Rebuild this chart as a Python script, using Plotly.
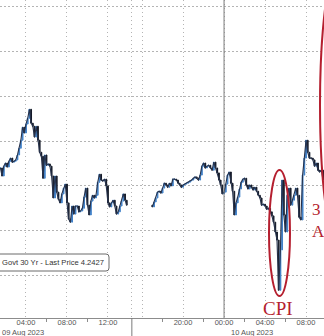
import plotly.graph_objects as go
import pandas as pd

# ---------------- data ----------------
# US 30Y yield, 10-minute closes
day1_start = "2023-08-09 01:30"
day1_close = [
    4.1540, 4.1522, 4.1544, 4.1551, 4.1542, 4.1555, 4.1562, 4.1553, 4.1555, 4.1558,
    4.1569, 4.1584, 4.1602, 4.1631, 4.1618, 4.1638, 4.1651, 4.1671, 4.1640, 4.1633,
    4.1609, 4.1633, 4.1602, 4.1575, 4.1566, 4.1517, 4.1569, 4.1546, 4.1549, 4.1544,
    4.1522, 4.1473, 4.1522, 4.1486, 4.1470, 4.1462, 4.1482, 4.1495, 4.1504, 4.1462,
    4.1426, 4.1419, 4.1455, 4.1437, 4.1455, 4.1455, 4.1442, 4.1444, 4.1450, 4.1475,
    4.1495, 4.1457, 4.1435, 4.1466, 4.1479, 4.1473, 4.1479, 4.1508, 4.1526, 4.1513,
    4.1511, 4.1515, 4.1500, 4.1462, 4.1453, 4.1462, 4.1468, 4.1455, 4.1437, 4.1442,
    4.1455, 4.1466, 4.1482, 4.1468, 4.1457,
]
day2_start = "2023-08-09 17:00"
day2_close = [
    4.1453, 4.1464, 4.1473, 4.1486, 4.1488, 4.1484, 4.1495, 4.1506, 4.1502, 4.1497,
    4.1506, 4.1500, 4.1515, 4.1515, 4.1513, 4.1506, 4.1502, 4.1497, 4.1502, 4.1504,
    4.1506, 4.1508, 4.1511, 4.1513, 4.1517, 4.1520, 4.1517, 4.1513, 4.1524, 4.1544,
    4.1551, 4.1540, 4.1544, 4.1546, 4.1540, 4.1535, 4.1553, 4.1540, 4.1529, 4.1513,
    4.1502, 4.1482, 4.1486, 4.1504, 4.1524, 4.1531, 4.1506, 4.1488, 4.1435, 4.1462,
    4.1475, 4.1493, 4.1508, 4.1515, 4.1517, 4.1502, 4.1493, 4.1502, 4.1497, 4.1491,
    4.1497, 4.1488, 4.1479, 4.1473, 4.1457, 4.1459, 4.1455, 4.1448, 4.1450, 4.1442,
    4.1433, 4.1419, 4.1397, 4.1379, 4.1267, 4.1357, 4.1513, 4.1435, 4.1397, 4.1479,
    4.1495, 4.1457, 4.1468, 4.1479, 4.1495, 4.1479, 4.1430, 4.1424, 4.1524, 4.1562,
    4.1602, 4.1575, 4.1562, 4.1562, 4.1558, 4.1544, 4.1551, 4.1535, 4.1531, 4.1535,
    4.1513,
]
tick_times = ["2023-08-09 04:00", "2023-08-09 08:00", "2023-08-09 12:00",
              "2023-08-09 15:00", "2023-08-09 16:00", "2023-08-09 20:00",
              "2023-08-10 00:00", "2023-08-10 04:00", "2023-08-10 08:00"]
tick_labels = ["04:00", "08:00", "12:00", "", "", "20:00", "00:00", "04:00", "08:00"]
minor_times = ["2023-08-09 06:00", "2023-08-09 10:00", "2023-08-09 18:00",
               "2023-08-09 22:00", "2023-08-10 02:00", "2023-08-10 06:00"]
date_labels = ["09 Aug 2023", "10 Aug 2023"]
legend_text = "Govt 30 Yr - Last Price 4.2427"
event_labels = ["CPI", "3<br>A"]

# ---------------- build ----------------
W, H, B = 324, 336, 18
PH = H - B


def px(x):
    return x / W


def py(y):
    return (PH - y) / PH


t1 = list(pd.date_range(day1_start, periods=len(day1_close), freq="10min"))
t2 = list(pd.date_range(day2_start, periods=len(day2_close), freq="10min"))
closes = day1_close + day2_close
times = t1 + t2
opens = [closes[0]] + closes[:-1]
highs = [max(o, c) for o, c in zip(opens, closes)]
lows = [min(o, c) for o, c in zip(opens, closes)]

fig = go.Figure()
for tt, cc in ((t1, day1_close), (t2, day2_close)):
    fig.add_trace(go.Scatter(x=tt, y=cc, mode="lines", hoverinfo="skip",
                             line=dict(color="#26324c", width=1.1)))
fig.add_trace(go.Candlestick(
    x=times, open=opens, high=highs, low=lows, close=closes,
    increasing=dict(line=dict(color="#3f80c8", width=1), fillcolor="#3f80c8"),
    decreasing=dict(line=dict(color="#141a28", width=1), fillcolor="#141a28"),
    whiskerwidth=0, hoverinfo="skip",
))

grid = "#b4b4b4"
fig.update_layout(
    width=W, height=H, margin=dict(l=0, r=0, t=0, b=B),
    paper_bgcolor="white", plot_bgcolor="white", showlegend=False,
    xaxis=dict(
        type="date",
        range=["2023-08-09 01:27:48", "2023-08-10 09:45:22"],
        rangebreaks=[dict(values=["2023-08-09 14:20:00"], dvalue=40 * 60 * 1000)],
        rangeslider=dict(visible=False),
        tickmode="array", tickvals=tick_times, ticktext=tick_labels,
        showgrid=True, gridcolor=grid, griddash="1.5px,2.5px", gridwidth=1,
        ticks="", showline=True, linecolor="#8c8c8c", linewidth=1,
        ticklabelstandoff=-3,
        tickfont=dict(family="Liberation Sans, Arial", size=7.5, color="#555"),
        minor=dict(tickvals=minor_times, ticks="outside", ticklen=3,
                   tickcolor="#8c8c8c", showgrid=False),
        zeroline=False,
    ),
    yaxis=dict(
        range=[4.1205, 4.1915], tick0=4.13, dtick=0.01,
        showticklabels=False, showgrid=True, gridcolor=grid,
        griddash="1.5px,2.5px", gridwidth=1, ticks="", zeroline=False,
        showline=False,
    ),
)

red = "#b51f2f"
shapes = [
    dict(type="line", xref="x", yref="paper", x0="2023-08-10 00:00", x1="2023-08-10 00:00",
         y0=0, y1=1, line=dict(color="#7a7a7a", width=1)),
    dict(type="line", xref="x", yref="paper", x0="2023-08-09 15:00", x1="2023-08-09 15:00",
         y0=0, y1=-B / PH, line=dict(color="#7a7a7a", width=1)),
    dict(type="circle", xref="paper", yref="paper", x0=px(269), x1=px(290),
         y0=py(296), y1=py(170), line=dict(color=red, width=2)),
    dict(type="circle", xref="paper", yref="paper", x0=px(320), x1=px(362),
         y0=py(253), y1=py(-43), line=dict(color=red, width=2)),
]
x0, x1, y0, y1, r = -20, 109, 254, 271, 3
path = (f"M {px(x0)},{py(y0)} L {px(x1 - r)},{py(y0)} Q {px(x1)},{py(y0)} {px(x1)},{py(y0 + r)} "
        f"L {px(x1)},{py(y1 - r)} Q {px(x1)},{py(y1)} {px(x1 - r)},{py(y1)} "
        f"L {px(x0)},{py(y1)} Z")
shapes.append(dict(type="path", xref="paper", yref="paper", path=path,
                   line=dict(color="#6a6a6a", width=1), fillcolor="white"))
fig.update_layout(shapes=shapes)

ann = [
    dict(text=legend_text, xref="paper", yref="paper", x=px(0), y=py(262.5),
         xanchor="left", yanchor="middle", showarrow=False,
         font=dict(family="Liberation Sans, Arial", size=7.6, color="#333")),
    dict(text=date_labels[0], xref="paper", yref="paper", x=px(0), y=py(332),
         xanchor="left", yanchor="middle", showarrow=False,
         font=dict(family="Liberation Sans, Arial", size=7.5, color="#555")),
    dict(text=date_labels[1], xref="paper", yref="paper", x=px(229), y=py(332),
         xanchor="left", yanchor="middle", showarrow=False,
         font=dict(family="Liberation Sans, Arial", size=7.5, color="#555")),
    dict(text=event_labels[0], xref="paper", yref="paper", x=px(278), y=py(308),
         xanchor="center", yanchor="middle", showarrow=False,
         font=dict(family="Liberation Serif, Times New Roman", size=19, color=red)),
    dict(text=event_labels[1], xref="paper", yref="paper", x=px(310), y=py(198),
         xanchor="left", yanchor="top", showarrow=False, align="left",
         font=dict(family="Liberation Serif, Times New Roman", size=17, color=red)),
]
fig.update_layout(annotations=ann)

fig.write_html("out.html")
